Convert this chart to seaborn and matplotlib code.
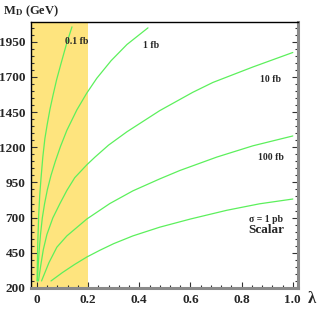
import numpy as np
import pandas as pd
import matplotlib
matplotlib.use("Agg")
import matplotlib.pyplot as plt
from matplotlib.ticker import MultipleLocator
import seaborn as sns

# --- DATA ---
lam_01fb = [0.0006, 0.002, 0.004, 0.007, 0.011, 0.016, 0.023, 0.031, 0.04, 0.051, 0.063, 0.077, 0.095, 0.115, 0.137]
md_01fb = [250, 400, 560, 720, 860, 980, 1130, 1260, 1360, 1470, 1570, 1680, 1800, 1930, 2055]

lam_1fb = [0.002, 0.005, 0.009, 0.014, 0.021, 0.03, 0.041, 0.055, 0.072, 0.092, 0.117, 0.156, 0.195, 0.234, 0.29, 0.352, 0.434]
md_1fb = [250, 361, 473, 580, 697, 800, 900, 1000, 1100, 1205, 1320, 1465, 1585, 1690, 1815, 1930, 2048]

lam_10fb = [0.006, 0.015, 0.025, 0.039, 0.062, 0.09, 0.117, 0.148, 0.195, 0.227, 0.28, 0.352, 0.48, 0.609, 0.6875, 0.844, 1.0]
md_10fb = [250, 361, 473, 580, 697, 800, 893, 984, 1075, 1130, 1215, 1310, 1460, 1590, 1660, 1770, 1873]

lam_100fb = [0.018, 0.047, 0.078, 0.117, 0.195, 0.285, 0.375, 0.48, 0.559, 0.703, 0.844, 1.0]
md_100fb = [250, 380, 490, 570, 690, 800, 890, 975, 1035, 1130, 1210, 1280]

lam_1pb = [0.055, 0.10, 0.148, 0.195, 0.246, 0.30, 0.375, 0.48, 0.60, 0.742, 0.87, 1.0]
md_1pb = [250, 310, 368, 420, 468, 515, 570, 632, 690, 752, 798, 832]

curve_names = ["0.1 fb", "1 fb", "10 fb", "100 fb", "1 pb"]
y_ticks = [200, 450, 700, 950, 1200, 1450, 1700, 1950]
x_ticks = [0, 0.2, 0.4, 0.6, 0.8, 1.0]
x_tick_labels = ["0", "0.2", "0.4", "0.6", "0.8", "1.0"]
band_end = 0.2

# --- STYLE ---
sns.set_style("ticks")
plt.rcParams["font.family"] = ["Liberation Serif", "DejaVu Serif"]
plt.rcParams["font.weight"] = "bold"
plt.rcParams["mathtext.fontset"] = "stix"

GREEN = "#5cf05c"
YELLOW = "#fee47e"
GREY = "#8a8a8a"

rows = []
for name, lam, md in zip(curve_names,
                         [lam_01fb, lam_1fb, lam_10fb, lam_100fb, lam_1pb],
                         [md_01fb, md_1fb, md_10fb, md_100fb, md_1pb]):
    for l, m in zip(lam, md):
        rows.append({"curve": name, "lam": l, "md": m})
df = pd.DataFrame(rows)

fig = plt.figure(figsize=(3.2, 3.09), dpi=100)
ax = fig.add_axes([0.097, 0.068, 0.834, 0.861])

ax.set_xlim(-0.023, 1.02)
ax.set_ylim(228, 2090)
ax.axvspan(-0.023, band_end, color=YELLOW, lw=0, zorder=0)

sns.lineplot(data=df, x="lam", y="md", units="curve", estimator=None,
             sort=False, color=GREEN, lw=0.9, ax=ax, legend=False)

# curve labels
txt = dict(fontsize=7, fontweight="bold", ha="center", va="center")
ax.text(0.156, 1950, "0.1 fb", **txt)
ax.text(0.445, 1922, "1 fb", **txt)
ax.text(0.914, 1684, "10 fb", **txt)
ax.text(0.916, 1124, "100 fb", **txt)
ax.text(0.895, 690, "σ = 1 pb", **txt)
ax.text(0.897, 613, "Scalar", fontsize=9.5, fontweight="bold", ha="center", va="center")

# ticks
ax.set_xticks(x_ticks)
ax.set_xticklabels(x_tick_labels)
ax.set_yticks(y_ticks)
ax.xaxis.set_minor_locator(MultipleLocator(0.04))
ax.yaxis.set_minor_locator(MultipleLocator(50))
ax.tick_params(which="both", direction="in", right=True, top=False, width=0.8,
               color="#333333", labelsize=9.5)
ax.tick_params(which="major", length=4, pad=4)
ax.tick_params(which="minor", length=2)
for lab in ax.get_xticklabels() + ax.get_yticklabels():
    lab.set_fontweight("bold")

ax.set_xlabel("")
ax.set_ylabel("")

# frame
ax.spines["left"].set_color("black")
ax.spines["left"].set_linewidth(1.0)
ax.spines["top"].set_color("black")
ax.spines["top"].set_linewidth(1.0)
ax.spines["right"].set_color(GREY)
ax.spines["right"].set_linewidth(2.2)
ax.spines["bottom"].set_color(GREY)
ax.spines["bottom"].set_linewidth(2.2)

# axis titles
fig.text(0.01, 0.965, r"M$_\mathbf{D}$ (GeV)", fontsize=9, fontweight="bold",
         ha="left", va="center")
fig.text(0.988, 0.006, "λ", fontsize=12, ha="right", va="bottom")

fig.savefig("out.png", dpi=100)
